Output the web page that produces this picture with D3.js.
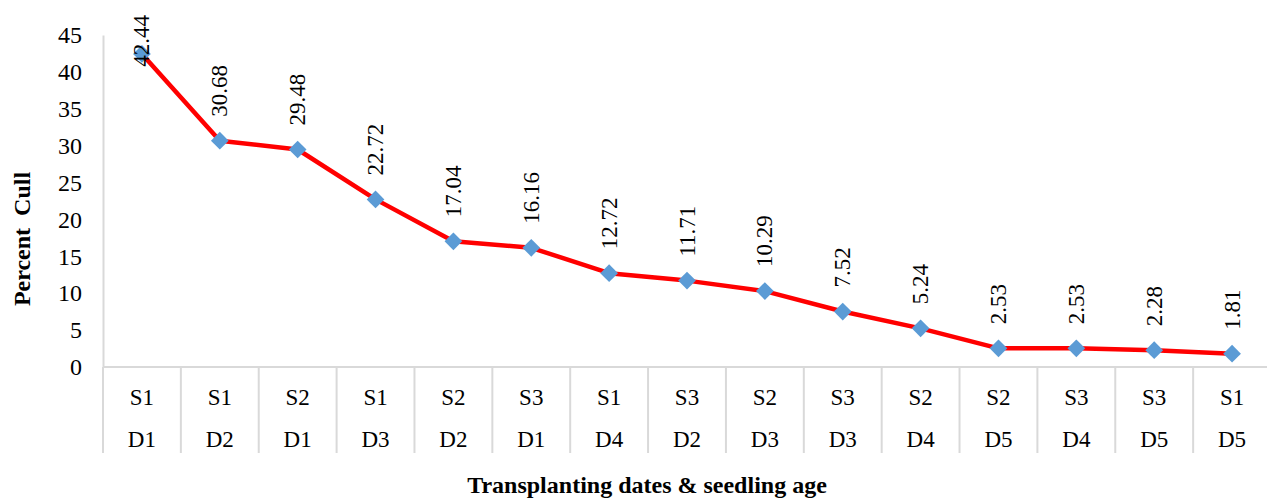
<!DOCTYPE html>
<html>
<head>
<meta charset="utf-8">
<script src="https://cdn.jsdelivr.net/npm/d3@7"></script>
<style>
  body { margin: 0; background: #fff; }
  svg text { font-family: "Liberation Serif", "Times New Roman", serif !important; fill: #000; }
</style>
</head>
<body>
<div id="chart"></div>
<script>
// chart data
var seedAge = ["S1", "S1", "S2", "S1", "S2", "S3", "S1", "S3", "S2", "S3", "S2", "S2", "S3", "S3", "S1"];
var plantDate = ["D1", "D2", "D1", "D3", "D2", "D1", "D4", "D2", "D3", "D3", "D4", "D5", "D4", "D5", "D5"];
var cullValues = [42.44, 30.68, 29.48, 22.72, 17.04, 16.16, 12.72, 11.71, 10.29, 7.52, 5.24, 2.53, 2.53, 2.28, 1.81];
var yTicks = [0, 5, 10, 15, 20, 25, 30, 35, 40, 45];

var svgWidth = 1267;
var svgHeight = 499;
var margin = { top: 35, left: 103, bottom: 132 };
var plotRight = 1271;
var plotBottom = svgHeight - margin.bottom;

var svg = d3.select("#chart")
  .append("svg")
  .attr("width", svgWidth)
  .attr("height", svgHeight)
  .style("font-family", "Liberation Serif, serif");

var idx = d3.range(cullValues.length);

var xScale = d3.scaleBand()
  .domain(idx)
  .range([margin.left, plotRight]);

var yScale = d3.scaleLinear()
  .domain([0, 45])
  .range([plotBottom, margin.top]);

// y axis
var yAxis = svg.append("g")
  .attr("transform", `translate(${margin.left}, 0)`)
  .call(d3.axisLeft(yScale).tickValues(yTicks).tickSize(0).tickPadding(21));
yAxis.attr("font-family", "Liberation Serif, serif").attr("font-size", null);
yAxis.selectAll("text").style("font-size", "24px");
yAxis.select(".domain").attr("stroke", "#d9d9d9").attr("stroke-width", 2);

// x axis line and category dividers
svg.append("line")
  .attr("x1", margin.left).attr("x2", plotRight)
  .attr("y1", plotBottom).attr("y2", plotBottom)
  .attr("stroke", "#d9d9d9").attr("stroke-width", 2);

svg.selectAll(".divider")
  .data(idx)
  .enter()
  .append("line")
  .attr("class", "divider")
  .attr("x1", d => xScale(d)).attr("x2", d => xScale(d))
  .attr("y1", plotBottom).attr("y2", 453)
  .attr("stroke", "#d9d9d9").attr("stroke-width", 2);

var cx = d => xScale(d) + xScale.bandwidth() / 2;

svg.selectAll(".sLabel")
  .data(idx)
  .enter()
  .append("text")
  .attr("class", "sLabel")
  .attr("x", cx)
  .attr("y", 397)
  .attr("text-anchor", "middle")
  .attr("dominant-baseline", "central")
  .style("font-size", "23px")
  .text(d => seedAge[d]);

svg.selectAll(".dLabel")
  .data(idx)
  .enter()
  .append("text")
  .attr("class", "dLabel")
  .attr("x", cx)
  .attr("y", 439)
  .attr("text-anchor", "middle")
  .attr("dominant-baseline", "central")
  .style("font-size", "23px")
  .text(d => plantDate[d]);

// line
var line = d3.line()
  .x(d => cx(d))
  .y(d => yScale(cullValues[d]));

svg.append("path")
  .datum(idx)
  .attr("d", line)
  .attr("fill", "none")
  .attr("stroke", "#ff0000")
  .attr("stroke-width", 4.5)
  .attr("stroke-linejoin", "round");

// diamond markers
svg.selectAll(".marker")
  .data(idx)
  .enter()
  .append("path")
  .attr("class", "marker")
  .attr("d", d3.symbol().type(d3.symbolDiamond2).size(200))
  .attr("transform", d => `translate(${cx(d)}, ${yScale(cullValues[d])})`)
  .attr("fill", "#5b9bd5");

// value labels, rotated
var valueLabels = svg.selectAll(".valLabel")
  .data(idx)
  .enter()
  .append("text")
  .attr("class", "valLabel")
  .attr("text-anchor", "start")
  .attr("dominant-baseline", "central")
  .style("font-size", "23px")
  .text(d => cullValues[d].toFixed(2));

valueLabels.attr("transform", function(d) {
  var len = this.getComputedTextLength();
  var start = Math.max(yScale(cullValues[d]) - 24, 15 + len);
  return `translate(${cx(d)}, ${start}) rotate(-90)`;
});

// axis titles
svg.append("text")
  .attr("transform", "translate(22, 239) rotate(-90)")
  .attr("text-anchor", "middle")
  .attr("dominant-baseline", "central")
  .style("font-size", "24px")
  .style("font-weight", "bold")
  .style("white-space", "pre")
  .text("Percent  Cull");

svg.append("text")
  .attr("x", 647)
  .attr("y", 493)
  .attr("text-anchor", "middle")
  .style("font-size", "24px")
  .style("font-weight", "bold")
  .text("Transplanting dates & seedling age");
</script>
</body>
</html>
